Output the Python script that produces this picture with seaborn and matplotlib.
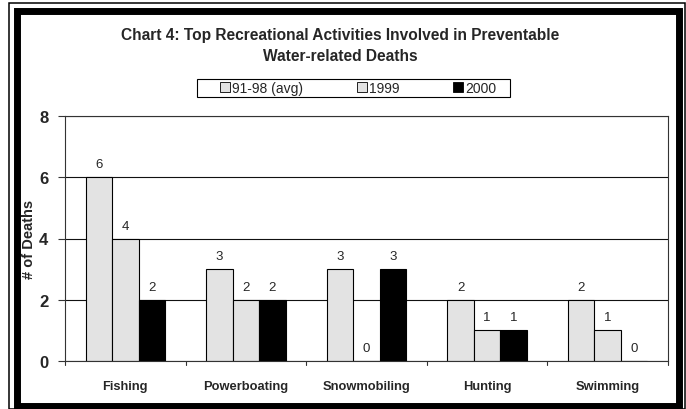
import matplotlib
matplotlib.use("Agg")
import matplotlib.pyplot as plt
from matplotlib.patches import Rectangle, Patch
import seaborn as sns
import pandas as pd

activities = ["Fishing", "Powerboating", "Snowmobiling", "Hunting", "Swimming"]
series = ["91-98 (avg)", "1999", "2000"]
avg_91_98 = [6, 3, 3, 2, 2]
deaths_1999 = [4, 2, 0, 1, 1]
deaths_2000 = [2, 2, 3, 1, 0]
colors = ["#e3e3e3", "#e3e3e3", "#000000"]

df = pd.DataFrame({
    "Activity": activities * 3,
    "Period": [s for s in series for _ in activities],
    "Deaths": avg_91_98 + deaths_1999 + deaths_2000,
})

sns.set_style("white")
plt.rcParams["font.family"] = ["Liberation Sans", "DejaVu Sans"]

W, H = 686, 410
fig = plt.figure(figsize=(W / 100, H / 100), dpi=100)
ax = fig.add_axes([65 / W, 1 - 362 / H, (668 - 65) / W, (362 - 117) / H])

sns.barplot(data=df, x="Activity", y="Deaths", hue="Period", order=activities,
            hue_order=series, palette=colors, edgecolor="black", linewidth=0.8,
            width=0.66, gap=0, saturation=1, legend=False, ax=ax)

for cont in ax.containers:
    ax.bar_label(cont, fmt="%d", padding=5, fontsize=9.5)

ax.set_ylim(0, 8)
ax.set_yticks([0, 2, 4, 6, 8])
ax.set_xlim(-0.5, len(activities) - 0.5)
ax.yaxis.grid(True, color="#111111", linewidth=0.8)
ax.set_axisbelow(True)
for sp in ax.spines.values():
    sp.set_visible(True)
    sp.set_color("#333333")
    sp.set_linewidth(0.8)

ax.tick_params(axis="y", left=True, length=5, width=0.8, color="#333333",
               labelsize=12, pad=7)
for t in ax.get_yticklabels():
    t.set_fontweight("bold")
ax.set_xticks(range(len(activities)))
ax.set_xticklabels(activities, fontsize=9.3, fontweight="bold")
ax.tick_params(axis="x", bottom=False, pad=10)
for b in range(len(activities) + 1):
    ax.plot([b - 0.5, b - 0.5], [0, -0.13], color="#333333", lw=0.8,
            clip_on=False, transform=ax.transData)

ax.set_xlabel("")
ax.set_ylabel("# of Deaths", fontsize=10.5, fontweight="bold")
ax.yaxis.set_label_coords(-0.048, 0.5)

fig.text(340 / W, 1 - 46 / H,
         "Chart 4: Top Recreational Activities Involved in Preventable\nWater-related Deaths",
         ha="center", va="center", fontsize=11.2, fontweight="bold", linespacing=1.45)

# legend entries without frame, boxed by a separate rectangle
handles = [Patch(facecolor=c, edgecolor="black", linewidth=0.6) for c in colors]
leg = fig.legend(handles, series, loc="center", bbox_to_anchor=(358 / W, 1 - 89 / H),
                 ncol=3, frameon=False, fontsize=10, handlelength=0.7,
                 handleheight=0.7, handletextpad=0.15, columnspacing=3.9,
                 borderpad=0.0)
fig.patches.append(Rectangle((197 / W, 1 - 98 / H), (510 - 197) / W, 18 / H,
                             transform=fig.transFigure, fill=False,
                             edgecolor="black", linewidth=0.8))

# double frame around the whole figure
fig.patches.append(Rectangle((9 / W, 0), (685 - 9) / W, 1 - 4 / H, transform=fig.transFigure,
                             fill=False, edgecolor="black", linewidth=1.1))
fig.patches.append(Rectangle((16.5 / W, 1 - 406.5 / H), (679 - 16.5) / W, (406.5 - 11.5) / H,
                             transform=fig.transFigure, fill=False,
                             edgecolor="black", linewidth=5))

fig.savefig("out.png", dpi=100)
